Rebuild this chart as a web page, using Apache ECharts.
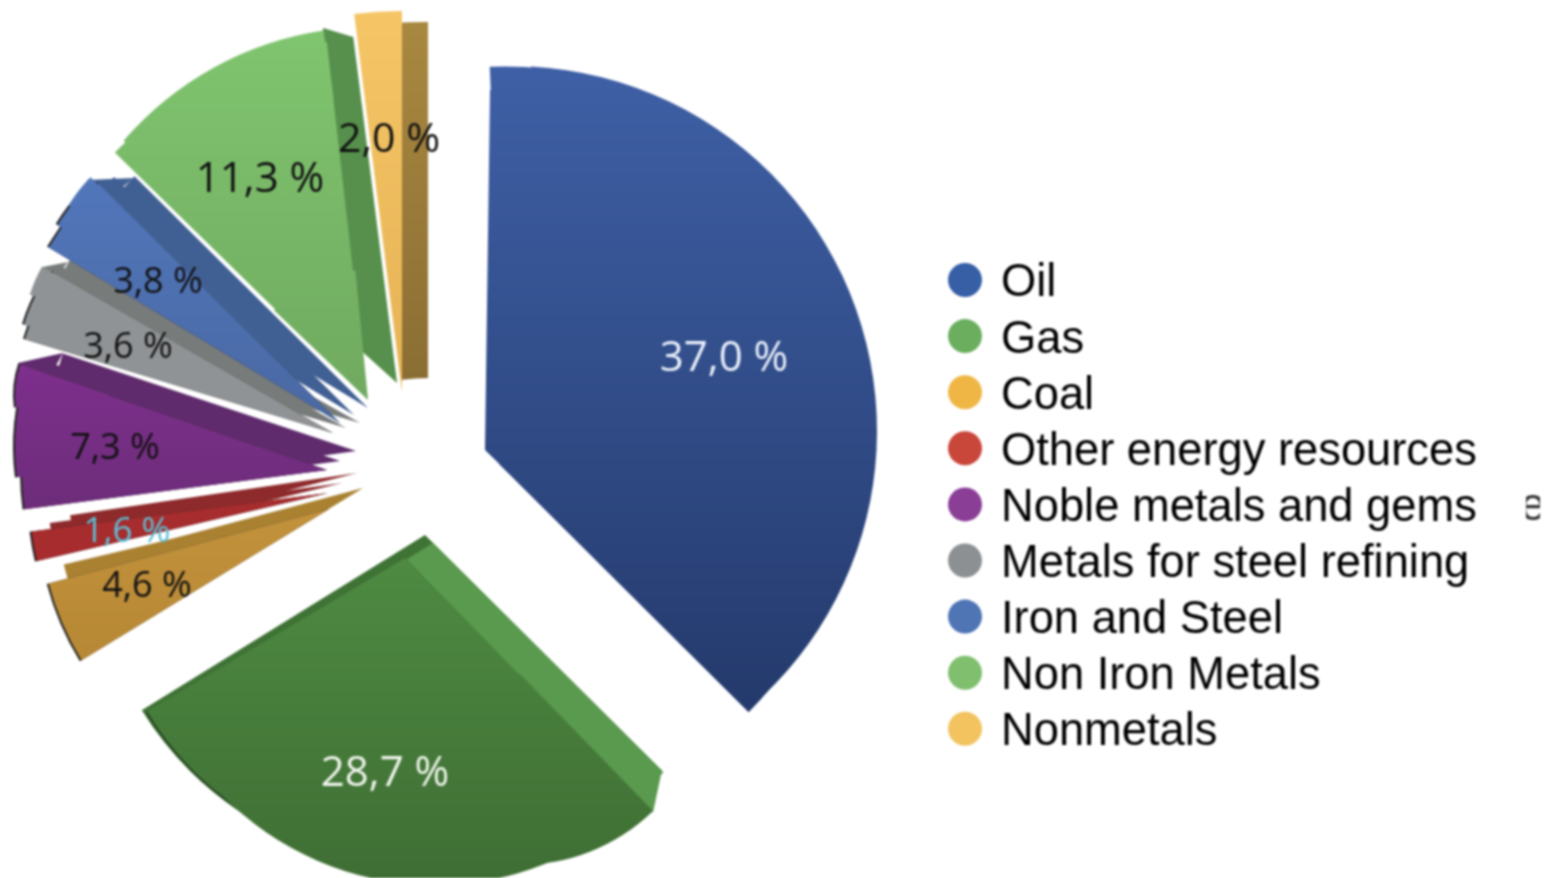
<!DOCTYPE html>
<html>
<head>
<meta charset="utf-8">
<style>html,body{margin:0;padding:0;background:#fff}#c{width:1546px;height:878px;filter:blur(1px)}</style>
<script src="https://cdn.jsdelivr.net/npm/echarts@6/dist/echarts.min.js"></script>
</head>
<body>
<div id="c"></div>
<script>
const categories = ['Oil','Gas','Coal','Other energy resources','Noble metals and gems','Metals for steel refining','Iron and Steel','Non Iron Metals','Nonmetals'];
const shares = [37.0,28.7,4.6,1.6,7.3,3.6,3.8,11.3,2.0];
const legendColors = ['#365fa6','#6aae5e','#efb645','#c9463a','#8a3e96','#8c9092','#4f75b5','#7fbf6e','#f2c35f'];

function grad(y1,y2,a,b){return {type:'linear',x:0,y:y1,x2:0,y2:y2,global:true,colorStops:[{offset:0,color:a},{offset:1,color:b}]};}
const oilFill = grad(67,710,'#3f60a6','#243a6c');
const gasFill = grad(540,880,'#4f8c43','#3f6e34');
const nonIronFill = grad(28,400,'#80c56f','#70aa60');
const nobleFill = grad(360,510,'#7e2f8d','#6d2d7a');
const ironFill = grad(180,420,'#5176ba','#4a69a4');
const nonIronSide='#56904c', redSide='#8e2a2c', coalSide='#a98131', nobleSide='#5f2b6c', steelSide='#777b7a', ironSide='#405f93';

// One flat exploded sector per row, painted in order: slice, centre x, y, radius, rotation, fill, inner radius
const layers = [
  [8,428,584,562,0,grad(20,380,'#a98840','#8b6e33'),206],
  [8,402,392,381,0,grad(10,392,'#f5c566','#e6b355')],
  [7,397,383,349,0,nonIronSide],
  [7,353,37,31,-66.1,nonIronSide],
  [7,368,400,130,1.6,nonIronFill],
  [7,325,358,294,2.3,nonIronFill],
  [7,362,350,310,0.7,nonIronFill],
  [7,372,355,328,-1.3,nonIronFill,260],
  [0,485,450,360,0.8,oilFill],
  [0,505,431,364.5,-2.4,oilFill],
  [0,512,431,365,3,oilFill],
  [0,499,464,352,1.5,oilFill],
  [1,425,535,333,1.5,'#3f7335'],
  [1,433,543,325,1.5,'#5a9a4e'],
  [1,662,770,43,58.6,'#5a9a4e'],
  [1,405,558,302,2.5,'#2a4a24'],
  [1,405,558,300,2.5,gasFill],
  [1,435,588,297,2.5,gasFill],
  [1,520,674,191,2.5,gasFill],
  [3,357,473,290,2.5,redSide],
  [3,342,483,295,3.1,redSide],
  [3,328,493,301,3.5,'#222'],
  [3,328,493,299,3.5,'#a72c2e'],
  [2,363,488,287,1.8,coalSide],
  [2,346,498,290,3.4,coalSide],
  [2,329,509,292,1.8,'#222'],
  [2,329,509,290,1.8,grad(490,660,'#c4933d','#b78835')],
  [4,356,451,309,3,nobleSide],
  [4,340,461,312,3.3,nobleSide],
  [4,63,353,46,-27.9,nobleSide],
  [4,63,353,46,-50,nobleSide],
  [4,327,470,307,3.5,'#222'],
  [4,250,447,237,3.5,'#222'],
  [4,110,395,97,3.5,'#222'],
  [4,327,470,305,3.5,nobleFill],
  [4,250,447,235,3.5,nobleFill],
  [4,110,395,95,3.5,nobleFill],
  [5,360,423,333,1,steelSide],
  [5,346,428,328,1.2,steelSide],
  [5,68,262,27,-39.4,steelSide],
  [5,68,262,27,-49,steelSide],
  [5,68,262,27,-59,steelSide],
  [5,68,262,27,-69,steelSide],
  [5,333,433,324,1.5,'#222'],
  [5,200,378,186,1.5,'#222'],
  [5,333,433,322,1.5,'#909395'],
  [5,200,378,184,1.5,'#909395'],
  [5,159,334,135,1.5,'#909395'],
  [6,368,408,329,2.7,ironSide],
  [6,354,415,338,2.7,ironSide],
  [6,134,178,47,-44.6,ironSide],
  [6,134,178,47,-55,ironSide],
  [6,134,178,47,-66,ironSide],
  [6,340,423,342,2.7,'#222'],
  [6,215,320,186,2.7,'#222'],
  [6,340,423,340,2.7,ironFill],
  [6,215,320,184,2.7,ironFill],
  [6,197,283,150,2.7,ironFill]
];
// Label centres and styles, by slice
const labelStyles = [
  [724,359,42,'#eaf0fa'],[385,774,42,'#eef4ea'],[147,587,36,'#111'],[127,532,35,'#5cc0d6'],
  [115,449,36,'#111'],[128,348,36,'#111'],[158,283,36,'#111'],[260,180,42,'#111'],[389,140,41,'#111']
];
const labelHost = {};
layers.forEach((l,i)=>{labelHost[l[0]]=i;});

const series = layers.map((l,idx)=>{
  const [slice,cx,cy,r,tilt,fill,r0] = l;
  const isHost = labelHost[slice]===idx;
  return {
    type:'pie', silent:true, animation:false, avoidLabelOverlap:false, clockwise:true,
    center:[cx,cy], radius:[r0||0,r], startAngle:90-tilt,
    labelLine:{show:false},
    labelLayout:isHost?function(p){
      if(p.dataIndex!==slice) return {};
      return {x:labelStyles[slice][0],y:labelStyles[slice][1],align:'center',verticalAlign:'middle'};
    }:undefined,
    data:categories.map((name,i)=>({
      name,value:shares[i],
      itemStyle:{color:i===slice?fill:'transparent',borderWidth:0},
      label:(isHost&&i===slice)?{
        show:true,position:'inside',fontFamily:'Open Sans',
        fontSize:labelStyles[i][2],color:labelStyles[i][3],
        formatter:shares[i].toFixed(1).replace('.',',')+' %'
      }:{show:false}
    }))
  };
});

const chart = echarts.init(document.getElementById('c'),null,{renderer:'canvas'});
chart.setOption({
  backgroundColor:'#fff',
  animation:false,
  tooltip:{show:false},
  legend:{
    orient:'vertical',left:948,top:261.5,padding:0,selectedMode:false,
    icon:'circle',itemWidth:34,itemHeight:34,itemGap:11.1,
    formatter:n=>'{t|'+n+'}',
    textStyle:{fontFamily:'Liberation Sans',fontSize:45.3,color:'#000',
      rich:{t:{fontFamily:'Liberation Sans',fontSize:45.3,color:'#000',padding:[8,0,0,14]}}},
    data:categories.map((name,i)=>({name,itemStyle:{color:legendColors[i],opacity:1,borderWidth:0}}))
  },
  graphic:[
    {type:'text',left:1520,top:484,silent:true,z:100,style:{text:'e',fontFamily:'Liberation Sans',fontSize:46,fill:'#333'}},
    {type:'rect',shape:{x:1512,y:470,width:14,height:60},silent:true,z:101,style:{fill:'#fff'}},
    {type:'rect',shape:{x:1540,y:470,width:6,height:60},silent:true,z:101,style:{fill:'#fff'}}
  ],
  series
});
</script>
</body>
</html>
